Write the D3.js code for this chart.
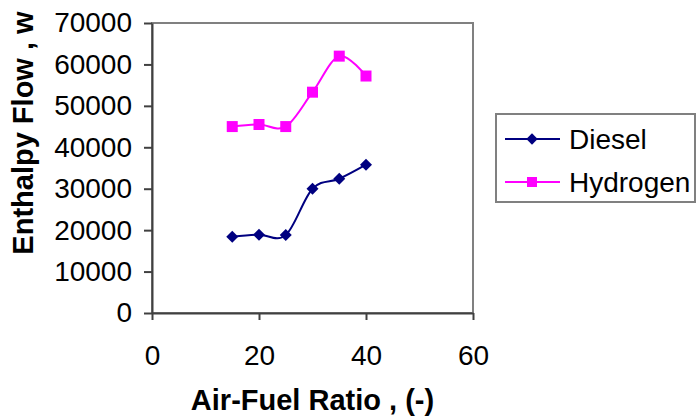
<!DOCTYPE html>
<html>
<meta charset="utf-8">
<style>
body {
margin: 0;
background: #fff;
}
text {
font-family: "Liberation Sans", Arial, sans-serif;
fill: #000;
}
.tick text {
font-size: 28px;
}
.axis-title {
font-size: 29px;
font-weight: bold;
}
.legend-label {
font-size: 28px;
}
</style>
<body>
<script src="https://cdn.jsdelivr.net/npm/d3@7"></script>
<script>

var airFuel = [15, 20, 25, 30, 35, 40];
var diesel = [18400, 18900, 18800, 30000, 32400, 35800];
var hydrogen = [45000, 45500, 45000, 53300, 62000, 57200];
var xTicks = [0, 20, 40, 60];
var yTicks = [0, 10000, 20000, 30000, 40000, 50000, 60000, 70000];

var series = [
  {name: "Diesel", values: diesel, color: "#000080", shape: "diamond"},
  {name: "Hydrogen", values: hydrogen, color: "#ff00ff", shape: "square"}
];

var svg = d3.select("body").append("svg")
    .attr("width", 696)
    .attr("height", 418);

var x = d3.scaleLinear().domain([0, 60]).range([152, 473]);
var y = d3.scaleLinear().domain([0, 70000]).range([313, 23]);

// plot area border (top / right are the light grey frame)
svg.append("rect")
  .attr("x", x(0))
  .attr("y", y(70000))
  .attr("width", x(60) - x(0))
  .attr("height", y(0) - y(70000))
  .attr("fill", "none")
  .attr("stroke", "#808080")
  .attr("stroke-width", 2);

var yAxis = svg.append("g")
  .attr("transform", "translate(" + x(0) + ",0)")
  .call(d3.axisLeft(y).tickValues(yTicks).tickFormat(d3.format("d"))
    .tickSize(8).tickPadding(12).tickSizeOuter(0));

var xAxis = svg.append("g")
  .attr("transform", "translate(0," + y(0) + ")")
  .call(d3.axisBottom(x).tickValues(xTicks).tickFormat(d3.format("d"))
    .tickSize(7).tickPadding(25).tickSizeOuter(0));

[yAxis, xAxis].forEach(function(a) {
  a.selectAll("path, line").attr("stroke", "#404040").attr("stroke-width", 2);
  a.selectAll("text").attr("font-family", null).attr("font-size", null);
});

function marker(shape, big) {
  if (shape == "diamond") return d3.symbol().type(d3.symbolSquare).size(big ? 72 : 64)();
  return d3.symbol().type(d3.symbolSquare).size(big ? 121 : 100)();
}

var line = d3.line()
  .x(function(d, i) { return x(airFuel[i]); })
  .y(function(d) { return y(d); })
  .curve(d3.curveCatmullRom.alpha(0));

series.forEach(function(s) {
  svg.append("path")
    .attr("d", line(s.values))
    .attr("fill", "none")
    .attr("stroke", s.color)
    .attr("stroke-width", 2);

  svg.selectAll(".pt-" + s.shape)
    .data(s.values)
    .enter()
    .append("path")
    .attr("class", "pt-" + s.shape)
    .attr("d", marker(s.shape, true))
    .attr("fill", s.color)
    .attr("transform", function(d, i) {
      return "translate(" + x(airFuel[i]) + "," + y(d) + ")" + (s.shape == "diamond" ? " rotate(45)" : "");
    });
});

// axis titles
svg.append("text")
  .attr("class", "axis-title")
  .attr("x", (x(0) + x(60)) / 2)
  .attr("y", 410)
  .attr("text-anchor", "middle")
  .text("Air-Fuel Ratio , (-)");

svg.append("text")
  .attr("class", "axis-title")
  .attr("transform", "translate(33,133) rotate(-90)")
  .attr("text-anchor", "middle")
  .text("Enthalpy Flow , w");

// legend
var legend = svg.append("g");
legend.append("rect")
  .attr("x", 496)
  .attr("y", 114)
  .attr("width", 199)
  .attr("height", 88)
  .attr("fill", "#fff")
  .attr("stroke", "#808080")
  .attr("stroke-width", 2);

var legendY = [139, 182];
series.forEach(function(s, i) {
  legend.append("line")
    .attr("x1", 505).attr("x2", 560)
    .attr("y1", legendY[i]).attr("y2", legendY[i])
    .attr("stroke", s.color)
    .attr("stroke-width", 2);
  legend.append("path")
    .attr("d", marker(s.shape, false))
    .attr("fill", s.color)
    .attr("transform", "translate(532," + legendY[i] + ")" + (s.shape == "diamond" ? " rotate(45)" : ""));
  legend.append("text")
    .attr("class", "legend-label")
    .attr("x", 569)
    .attr("y", legendY[i])
    .attr("dy", "0.35em")
    .text(s.name);
});

</script>
</body>
</html>
